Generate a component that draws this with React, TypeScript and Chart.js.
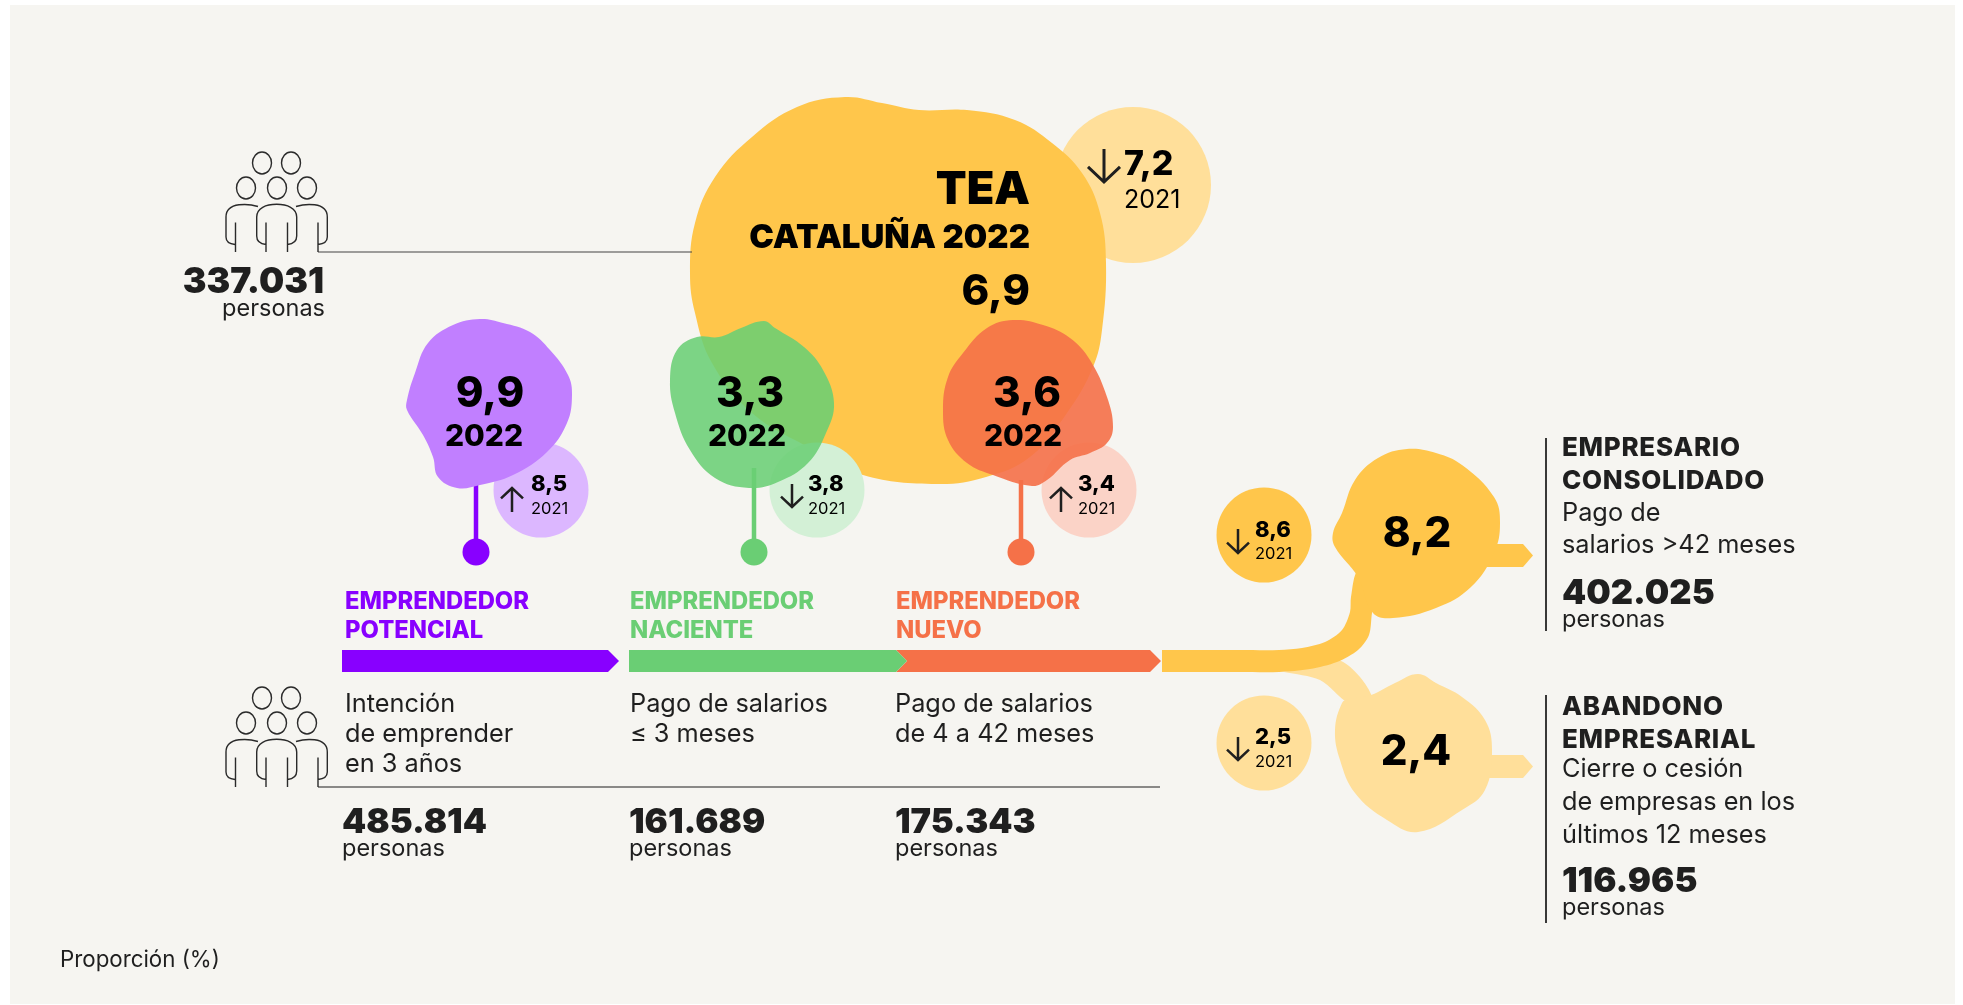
import React, { useEffect, useRef } from "react";
import { Chart, registerables } from "chart.js";

Chart.register(...registerables);

// ---------- DATA ----------
const categories = ["Emprendedor potencial", "Emprendedor naciente", "Emprendedor nuevo", "Empresario consolidado", "Abandono empresarial", "TEA"];
const values2022 = [9.9, 3.3, 3.6, 8.2, 2.4, 6.9];
const values2021 = [8.5, 3.8, 3.4, 8.6, 2.5, 7.2];
const persons = [485814, 161689, 175343, 402025, 116965, 337031];
const stageHeadings = [["EMPRENDEDOR", "POTENCIAL"], ["EMPRENDEDOR", "NACIENTE"], ["EMPRENDEDOR", "NUEVO"]];
const stageNotes = [["Intención", "de emprender", "en 3 años"], ["Pago de salarios", "≤ 3 meses"], ["Pago de salarios", "de 4 a 42 meses"]];
const exitHeadings = [["EMPRESARIO", "CONSOLIDADO"], ["ABANDONO", "EMPRESARIAL"]];
const exitNotes = [["Pago de", "salarios >42 meses"], ["Cierre o cesión", "de empresas en los", "últimos 12 meses"]];
const personsLabel = "personas";
const currentYear = "2022";
const previousYear = "2021";
const teaTitle = "TEA";
const teaSubtitle = "CATALUÑA 2022";
const footnote = "Proporción (%)";

// ---------- LAYOUT / STYLE ----------
const W = 1963, H = 1005;
const PANEL = "#F6F5F1", INK = "#1F1F1F";
const PURPLE = "#8800FF", GREEN = "#6ACE74", ORANGE = "#F57148", YELLOW = "#FFC64B", LIGHTY = "#FFDF9A";
type P = [number, number];

const blobTea: P[] = [[845,97],[882,103],[919,110],[967,110],[1015,120],[1052,143],[1082,173],[1100,213],[1106,263],[1102,330],[1093,367],[1067,413],[1030,457],[986,477],[937,484],[863,475],[808,447],[752,413],[712,363],[695,313],[690,273],[695,223],[715,177],[752,137],[797,107]];
const blobGreen: P[] = [[764,321],[775,328],[804,347],[823,370],[834,403],[826,433],[808,463],[778,482],[749,488],[715,478],[690,450],[675,413],[670,380],[677,350],[697,337],[719,337],[741,328]];
const blobOrange: P[] = [[1013,320],[1043,325],[1070,338],[1090,360],[1107,397],[1113,427],[1107,443],[1090,453],[1070,460],[1047,480],[1032,486],[993,475],[967,463],[948,440],[943,410],[948,377],[963,353],[987,328]];
const blobPurple: P[] = [[480,319],[503,323],[530,332],[550,350],[568,375],[572,395],[567,423],[547,452],[513,475],[480,485],[457,488],[438,477],[433,457],[423,435],[407,410],[407,400],[415,373],[428,343],[453,325]];
const blobConsol: P[] = [[1407,449],[1436,453],[1462,465],[1494,497],[1500,523],[1494,553],[1471,587],[1436,608],[1393,618],[1373,613],[1358,577],[1335,547],[1333,533],[1342,513],[1355,480],[1378,458]];
const blobAband: P[] = [[1418,674],[1436,683],[1462,697],[1485,720],[1492,750],[1485,790],[1462,810],[1418,832],[1387,820],[1355,793],[1340,760],[1335,730],[1342,703],[1349,699],[1371,695],[1395,683]];
const ribbonDark: P[] = [[1162,650],[1200,650],[1240,650],[1279,650],[1302,648],[1325,642],[1342,630],[1350,612],[1351,597],[1358,570],[1380,570],[1372,613],[1369,635],[1358,650],[1337,662],[1310,669],[1279,672],[1240,672],[1200,672],[1162,672]];
const ribbonLight: P[] = [[1284,672],[1337,660],[1360,677],[1372,700],[1349,703],[1320,680],[1284,672]];
const arrowConsol: P[] = [[1480,544],[1523,544],[1533,555.5],[1523,567],[1470,567]];
const arrowAband: P[] = [[1480,755],[1523,755],[1533,766.5],[1523,778],[1480,778]];
const barPurple: P[] = [[342,650],[608,650],[619,661],[608,672],[342,672]];
const barGreen: P[] = [[629,650],[896,650],[907,661],[896,672],[629,672]];
const barOrange: P[] = [[896,650],[1150,650],[1161,661],[1150,672],[896,672],[907,661]];

const wrap = (pts: P[]) => [pts[pts.length - 1], ...pts, pts[0], pts[1]].map(([x, y]) => ({ x, y }));
const blob = (pts: P[], color: string) => ({ type: "scatter", showLine: true, data: wrap(pts), fill: "shape", backgroundColor: color, borderWidth: 0, pointRadius: 0, tension: 0.4, capBezierPoints: false, clip: false });
const poly = (pts: P[], color: string, tension = 0) => ({ type: "scatter", showLine: true, data: pts.map(([x, y]) => ({ x, y })), fill: "shape", backgroundColor: color, borderWidth: 0, pointRadius: 0, tension, capBezierPoints: false, clip: false });
const rule = (a: P, b: P, color: string, w: number) => ({ type: "scatter", showLine: true, data: [a, b].map(([x, y]) => ({ x, y })), borderColor: color, borderWidth: w, pointRadius: 0, fill: false, clip: false });
const disc = (x: number, y: number, r: number, color: string) => ({ type: "bubble", data: [{ x, y, r }], backgroundColor: color, borderWidth: 0, clip: false });

const fmtVal = (v: number) => v.toFixed(1).replace(".", ",");
const fmtPers = (v: number) => String(v).replace(/\B(?=(\d{3})+$)/g, ".");

const painted: any[] = [
  disc(1133, 185, 78, LIGHTY),
  blob(blobTea, YELLOW),
  rule([318, 252], [692, 252], "#444", 1.2),
  rule([318, 787], [1160, 787], INK, 1.2),
  rule([1546, 438], [1546, 631], INK, 1),
  rule([1546, 695], [1546, 923], INK, 1),
  disc(541, 490, 47.5, "#DCB7FF"),
  disc(817, 490, 47.5, "#D3F0D6"),
  disc(1089, 490, 47.5, "#FBD3C7"),
  disc(1264, 535, 47.5, YELLOW),
  disc(1264, 743, 47.5, LIGHTY),
  rule([476, 480], [476, 552], PURPLE, 4.5),
  rule([754, 468], [754, 552], GREEN, 4.5),
  rule([1021, 480], [1021, 552], ORANGE, 4.5),
  disc(476, 552, 13.5, PURPLE),
  disc(754, 552, 13.5, GREEN),
  disc(1021, 552, 13.5, ORANGE),
  blob(blobPurple, "#C17FFF"),
  blob(blobGreen, "rgba(106,207,116,0.87)"),
  blob(blobOrange, "rgba(245,112,72,0.9)"),
  poly(barPurple, PURPLE),
  poly(barOrange, ORANGE),
  poly(barGreen, GREEN),
  poly(ribbonLight, LIGHTY, 0.3),
  poly(arrowAband, LIGHTY),
  blob(blobAband, LIGHTY),
  poly(arrowConsol, YELLOW),
  poly(ribbonDark, YELLOW, 0.3),
  blob(blobConsol, YELLOW),
];
painted.forEach((d, i) => (d.order = painted.length - i));

const art = {
  id: "art",
  beforeDraw(chart: any) {
    const { ctx, scales: { x, y } } = chart;
    ctx.save();
    ctx.fillStyle = PANEL;
    ctx.fillRect(x.getPixelForValue(10), y.getPixelForValue(5), x.getPixelForValue(1955) - x.getPixelForValue(10), y.getPixelForValue(1004) - y.getPixelForValue(5));
    ctx.restore();
  },
  afterDraw(chart: any) {
    const { ctx, scales } = chart;
    const X = (v: number) => scales.x.getPixelForValue(v);
    const Y = (v: number) => scales.y.getPixelForValue(v);
    const F = "Inter, 'Noto Sans', sans-serif";
    const T = (s: string, x: number, y: number, font: string, color = INK, align = "left", sp = "0px") => {
      ctx.font = `${font} ${F}`;
      ctx.fillStyle = color;
      ctx.textAlign = align;
      ctx.textBaseline = "alphabetic";
      ctx.letterSpacing = sp;
      ctx.fillText(s, X(x), Y(y));
    };
    const arrow = (x: number, y0: number, y1: number, up: boolean, hw: number, lw: number) => {
      ctx.strokeStyle = INK;
      ctx.lineWidth = lw;
      ctx.beginPath();
      ctx.moveTo(X(x), Y(y0));
      ctx.lineTo(X(x), Y(y1));
      const tip = up ? y0 : y1;
      const d = up ? hw * 0.95 : -hw * 0.95;
      ctx.moveTo(X(x - hw), Y(tip + d));
      ctx.lineTo(X(x), Y(tip));
      ctx.lineTo(X(x + hw), Y(tip + d));
      ctx.stroke();
    };
    const icon = (dy: number) => {
      ctx.save();
      ctx.strokeStyle = "#2A2A2A";
      ctx.lineWidth = 1.4;
      ctx.beginPath();
      const ell = (cx: number, cy: number) => {
        ctx.moveTo(X(cx + 9.5), Y(cy + dy));
        ctx.ellipse(X(cx), Y(cy + dy), 9.5, 11, 0, 0, Math.PI * 2);
      };
      [[262, 698], [291, 698], [246, 723], [277, 723], [307, 723]].forEach(([a, b]) => ell(a, b));
      const M = (a: number, b: number) => ctx.moveTo(X(a), Y(b + dy));
      const L = (a: number, b: number) => ctx.lineTo(X(a), Y(b + dy));
      const C = (a: number, b: number, c: number, d: number, e: number, f: number) => ctx.bezierCurveTo(X(a), Y(b + dy), X(c), Y(d + dy), X(e), Y(f + dy));
      M(258, 741.5); C(250, 739, 226, 736, 226, 752); L(226, 772); C(226, 777, 230, 779, 235, 779.5);
      M(235.5, 757.5); L(235.5, 787);
      M(266, 779.5); C(260, 779, 256.7, 776, 256.7, 771); L(256.7, 752); C(256.7, 743, 266, 739.3, 276.7, 739.3);
      C(287, 739.3, 296.7, 743, 296.7, 752); L(296.7, 771); C(296.7, 776, 293, 779, 287.5, 779.5);
      M(266, 757.5); L(266, 787); M(287.5, 757.5); L(287.5, 787);
      M(296, 741.5); C(304, 739, 327.3, 736, 327.3, 752); L(327.3, 772); C(327.3, 777, 323, 779, 318, 779.5);
      M(318, 757.5); L(318, 787);
      ctx.stroke();
      ctx.restore();
    };

    ctx.save();
    icon(0);
    icon(-535);

    const NUM = "900 34.5px";
    const PERS = "400 23.5px";
    const NOTE = "400 25.3px";
    const BIG = "800 42px";
    const Y22 = "800 30px";

    // TEA header
    T(fmtPers(persons[5]), 324, 293, "900 35.5px", INK, "right");
    T(teaTitle, 1030, 204, "900 45px", "#000", "right");
    T(teaSubtitle, 1030, 248, "900 33px", "#000", "right");
    T(fmtVal(values2022[5]), 1030, 305, BIG, "#000", "right");
    T(fmtVal(values2021[5]), 1124, 175, "800 34px", "#000");
    T(previousYear, 1124, 208, "400 25px", "#000");
    arrow(1104, 149, 182, values2022[5] > values2021[5], 16, 3);

    // Stage blobs
    const centers = [[490, 484, 407], [750, 747, 407], [1027, 1023, 407]];
    const prevX = [[531, 512], [808, 792], [1078, 1061]];
    [0, 1, 2].forEach((i) => {
      T(fmtVal(values2022[i]), centers[i][0], centers[i][2], BIG, "#000", "center");
      T(currentYear, centers[i][1], 446, Y22, "#000", "center");
      const up = values2022[i] > values2021[i];
      T(fmtVal(values2021[i]), prevX[i][0], 491, "800 22px", "#000");
      T(previousYear, prevX[i][0], 514, "400 16.5px", "#000");
      arrow(prevX[i][1], up ? 488 : 484, up ? 512 : 507, up, 11, 2.5);
    });

    // Stage headings, notes, counts
    const stageX = [345, 630, 896];
    const stageColor = [PURPLE, GREEN, ORANGE];
    stageHeadings.forEach((lines, i) => lines.forEach((s, j) => T(s, stageX[i], 609 + j * 29, "800 23.8px", stageColor[i])));
    const noteX = [345, 630, 895];
    stageNotes.forEach((lines, i) => lines.forEach((s, j) => T(s, noteX[i], 712 + j * 30, NOTE)));
    const countX = [342, 629, 895];
    [0, 1, 2].forEach((i) => {
      T(fmtPers(persons[i]), countX[i], 833, NUM);
      T(personsLabel, countX[i], 856, PERS);
    });
    T(personsLabel, 325, 316, PERS, INK, "right");

    // Exits
    T(fmtVal(values2022[3]), 1417, 547, BIG, "#000", "center");
    T(fmtVal(values2022[4]), 1416, 765, BIG, "#000", "center");
    T(fmtVal(values2021[3]), 1255, 537, "800 22px", "#000");
    T(previousYear, 1255, 559, "400 16.5px", "#000");
    arrow(1238, 529, 553, values2022[3] > values2021[3], 11, 2.5);
    T(fmtVal(values2021[4]), 1255, 744, "800 22px", "#000");
    T(previousYear, 1255, 767, "400 16.5px", "#000");
    arrow(1238, 737, 760, values2022[4] > values2021[4], 11, 2.5);

    const HEAD = "800 26px";
    exitHeadings[0].forEach((s, j) => T(s, 1562, 456 + j * 33, HEAD, INK, "left", "0.7px"));
    exitNotes[0].forEach((s, j) => T(s, 1562, 521 + j * 32, NOTE));
    T(fmtPers(persons[3]), 1562, 604, NUM);
    T(personsLabel, 1562, 627, PERS);
    exitHeadings[1].forEach((s, j) => T(s, 1562, 715 + j * 33, HEAD, INK, "left", "0.7px"));
    exitNotes[1].forEach((s, j) => T(s, 1562, 777 + j * 33, NOTE));
    T(fmtPers(persons[4]), 1562, 892, NUM);
    T(personsLabel, 1562, 915, PERS);

    T(footnote, 60, 967, "400 22.3px");
    ctx.restore();
  },
};

export default function App() {
  const ref = useRef<HTMLCanvasElement | null>(null);
  useEffect(() => {
    const chart = new Chart(ref.current as HTMLCanvasElement, {
      type: "scatter",
      data: { labels: categories, datasets: painted },
      options: {
        responsive: false,
        animation: false,
        events: [],
        layout: { padding: 0, autoPadding: false },
        plugins: { legend: { display: false }, tooltip: { enabled: false }, title: { display: false } },
        scales: {
          x: { type: "linear", min: 0, max: W, display: false },
          y: { type: "linear", min: 0, max: H, reverse: true, display: false },
        },
      },
      plugins: [art],
    } as any);
    return () => chart.destroy();
  }, []);
  return <canvas ref={ref} width={W} height={H} style={{ position: "absolute", left: 0, top: 0, display: "block" }} />;
}
